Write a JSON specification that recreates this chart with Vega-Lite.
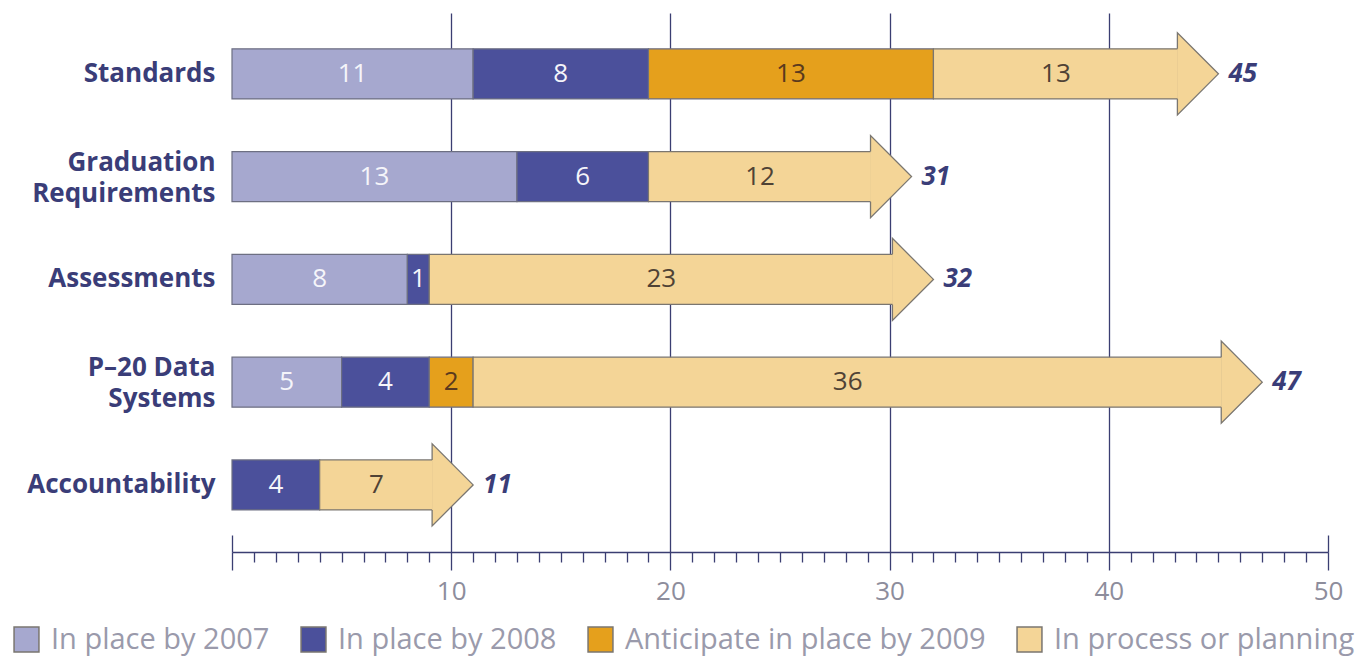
{
  "$schema": "https://vega.github.io/schema/vega-lite/v6.json",
  "width": 1096,
  "height": 539,
  "autosize": {"type": "none"},
  "padding": {"left": 232, "top": 13, "right": 44, "bottom": 107},
  "background": "white",
  "config": {"view": {"stroke": null}, "font": "Open Sans"},
  "data": {
    "values": [
      {"category": "Standards", "series": "In place by 2007", "order": 1, "value": 11},
      {"category": "Standards", "series": "In place by 2008", "order": 2, "value": 8},
      {"category": "Standards", "series": "Anticipate in place by 2009", "order": 3, "value": 13},
      {"category": "Standards", "series": "In process or planning", "order": 4, "value": 13},
      {"category": "Graduation Requirements", "series": "In place by 2007", "order": 1, "value": 13},
      {"category": "Graduation Requirements", "series": "In place by 2008", "order": 2, "value": 6},
      {"category": "Graduation Requirements", "series": "In process or planning", "order": 4, "value": 12},
      {"category": "Assessments", "series": "In place by 2007", "order": 1, "value": 8},
      {"category": "Assessments", "series": "In place by 2008", "order": 2, "value": 1},
      {"category": "Assessments", "series": "In process or planning", "order": 4, "value": 23},
      {"category": "P–20 Data Systems", "series": "In place by 2007", "order": 1, "value": 5},
      {"category": "P–20 Data Systems", "series": "In place by 2008", "order": 2, "value": 4},
      {"category": "P–20 Data Systems", "series": "Anticipate in place by 2009", "order": 3, "value": 2},
      {"category": "P–20 Data Systems", "series": "In process or planning", "order": 4, "value": 36},
      {"category": "Accountability", "series": "In place by 2008", "order": 2, "value": 4},
      {"category": "Accountability", "series": "In process or planning", "order": 4, "value": 7}
    ]
  },
  "transform": [
    {"stack": "value", "groupby": ["category"], "sort": [{"field": "order"}], "as": ["x0", "x1"]},
    {"calculate": "(datum.x0 + datum.x1) / 2", "as": "mid"}
  ],
  "encoding": {
    "y": {
      "field": "category",
      "type": "nominal",
      "scale": {
        "domain": ["Standards", "Graduation Requirements", "Assessments", "P–20 Data Systems", "Accountability"],
        "paddingInner": 0.513,
        "paddingOuter": 0.379,
        "align": 0.46
      },
      "axis": {
        "title": null,
        "domain": false,
        "ticks": false,
        "grid": false,
        "labelFont": "Open Sans",
        "labelFontSize": 26,
        "labelFontWeight": "bold",
        "labelColor": "#3a3d78",
        "labelPadding": 17,
        "labelLimit": 400,
        "labelLineHeight": 31,
        "labelOffset": {"condition": {"test": "datum.value == 'Graduation Requirements' || datum.value == 'P–20 Data Systems'", "value": -14}, "value": 0},
        "labelExpr": "datum.label == 'Graduation Requirements' ? ['Graduation', 'Requirements'] : datum.label == 'P–20 Data Systems' ? ['P–20 Data', 'Systems'] : datum.label"
      }
    }
  },
  "resolve": {"axis": {"x": "independent"}},
  "layer": [
    {
      "transform": [{"filter": "datum.order < 4"}],
      "mark": {"type": "bar", "stroke": "#6d6f82", "strokeWidth": 1.2},
      "encoding": {
        "x": {
          "field": "x0",
          "type": "quantitative",
          "scale": {"domain": [0, 50], "nice": false, "zero": true},
          "axis": {
            "orient": "bottom",
            "title": null,
            "values": [0,1,2,3,4,5,6,7,8,9,10,11,12,13,14,15,16,17,18,19,20,21,22,23,24,25,26,27,28,29,30,31,32,33,34,35,36,37,38,39,40,41,42,43,44,45,46,47,48,49,50],
            "domainColor": "#3b3e72",
            "domainWidth": 1.5,
            "tickColor": "#3b3e72",
            "tickWidth": 1.3,
            "tickSize": {"condition": {"test": "datum.value % 10 === 0", "value": 18}, "value": 10},
            "grid": true,
            "gridColor": "#3b3e72",
            "gridWidth": 1.3,
            "gridOpacity": {"condition": {"test": "datum.value % 10 === 0 && datum.value > 0 && datum.value < 50", "value": 1}, "value": 0},
            "labelExpr": "datum.value % 10 === 0 && datum.value > 0 ? datum.label : ''",
            "labelFont": "Open Sans",
            "labelFontSize": 26,
            "labelColor": "#8d8d9c",
            "labelPadding": 8,
            "labelFlush": false,
            "labelOverlap": false
          }
        },
        "x2": {"field": "x1"},
        "color": {
          "field": "series",
          "type": "nominal",
          "scale": {
            "domain": ["In place by 2007", "In place by 2008", "Anticipate in place by 2009", "In process or planning"],
            "range": ["#a6a8cf", "#4b509b", "#e5a01c", "#f4d597"]
          },
          "legend": {
            "orient": "none",
            "legendX": -220,
            "legendY": 612,
            "direction": "horizontal",
            "columns": 4,
            "title": null,
            "padding": 0,
            "symbolType": "square",
            "symbolSize": 620,
            "symbolStrokeColor": "#7a7a8a",
            "symbolStrokeWidth": 1.5,
            "symbolOpacity": 1,
            "labelFont": "Open Sans",
            "labelFontSize": 29,
            "labelColor": "#9a9aab",
            "labelOffset": 10,
            "columnPadding": 28,
            "labelLimit": 600
          }
        }
      }
    },
    {
      "transform": [{"filter": "datum.order == 4"}],
      "mark": {"type": "bar", "stroke": "#7a7670", "strokeWidth": 1.2, "x2Offset": -40},
      "encoding": {
        "x": {"field": "x0", "type": "quantitative", "axis": null},
        "x2": {"field": "x1"},
        "color": {"field": "series", "type": "nominal"}
      }
    },
    {
      "transform": [{"filter": "datum.order == 4"}],
      "mark": {
        "type": "point",
        "shape": "M-1,-0.61L-1,-1L0,0L-1,1L-1,0.61",
        "size": 6724,
        "filled": true,
        "fill": "#f4d597",
        "stroke": "#7a7670",
        "strokeWidth": 1.3,
        "opacity": 1,
        "fillOpacity": 1
      },
      "encoding": {
        "x": {
          "field": "x1",
          "type": "quantitative",
          "axis": {
            "orient": "bottom",
            "title": null,
            "values": [0, 50],
            "offset": -17,
            "tickSize": 17,
            "tickColor": "#3b3e72",
            "tickWidth": 1.3,
            "domain": false,
            "labels": false,
            "grid": false
          }
        }
      }
    },
    {
      "transform": [{"filter": "datum.order < 4"}],
      "mark": {"type": "text", "font": "Open Sans", "fontSize": 26, "align": "center", "baseline": "middle"},
      "encoding": {
        "x": {"field": "mid", "type": "quantitative", "axis": null},
        "text": {"field": "value", "type": "quantitative"},
        "color": {
          "condition": [
            {"test": "datum.order <= 2", "value": "#f5f5fa"},
            {"test": "datum.order == 3", "value": "#5a3a1e"}
          ],
          "value": "#4f4235"
        }
      }
    },
    {
      "transform": [{"filter": "datum.order == 4"}],
      "mark": {"type": "text", "font": "Open Sans", "fontSize": 26, "align": "center", "baseline": "middle", "dx": -20, "color": "#4f4235"},
      "encoding": {
        "x": {"field": "mid", "type": "quantitative", "axis": null},
        "text": {"field": "value", "type": "quantitative"}
      }
    },
    {
      "transform": [{"filter": "datum.order == 4"}],
      "mark": {"type": "text", "font": "Open Sans", "fontSize": 26, "fontWeight": "bold", "fontStyle": "italic", "align": "left", "baseline": "middle", "dx": 10, "color": "#3a3d78"},
      "encoding": {
        "x": {"field": "x1", "type": "quantitative", "axis": null},
        "text": {"field": "x1", "type": "quantitative"}
      }
    }
  ]
}
